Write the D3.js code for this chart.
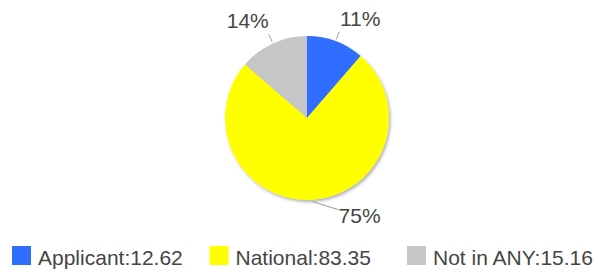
<!DOCTYPE html>
<html>
<head>
<meta charset="utf-8">
<script src="https://cdn.jsdelivr.net/npm/d3@7/dist/d3.min.js"></script>
<style>
  body { margin: 0; background: #fff; }
  text { font-family: "Liberation Sans", Arial, sans-serif; fill: #454545; }
</style>
</head>
<body>
<div class="canvas"></div>
<script>
const categories = ['Applicant', 'National', 'Not in ANY'];
const values = [12.62, 83.35, 15.16];
const colours = ['#2f6dff', '#ffff00', '#c6c6c6'];

const width = 602;
const height = 273;

const svg = d3.select('.canvas')
    .append('svg')
    .attr('width', width)
    .attr('height', height);

// soft shadow under the pie
const defs = svg.append('defs');
const shadow = defs.append('filter')
    .attr('id', 'shadow')
    .attr('x', '-20%').attr('y', '-20%')
    .attr('width', '140%').attr('height', '140%');
shadow.append('feDropShadow')
    .attr('dx', 1.5)
    .attr('dy', 2)
    .attr('stdDeviation', 1.5)
    .attr('flood-color', '#555')
    .attr('flood-opacity', 0.45);

const cx = 307, cy = 118, r = 82;

const graph = svg.append('g')
    .attr('transform', `translate(${cx}, ${cy})`);

const data = categories.map((c, i) => ({ name: c, value: values[i], colour: colours[i] }));
const total = d3.sum(values);

const pie = d3.pie()
    .sort(null)
    .value(d => d.value);

const arcs = pie(data);

const arc = d3.arc()
    .innerRadius(0)
    .outerRadius(r);

graph.append('g')
    .attr('filter', 'url(#shadow)')
    .selectAll('path')
    .data(arcs)
    .enter()
    .append('path')
    .attr('d', arc)
    .attr('fill', d => d.data.colour);

// labels with short leader lines
const polar = (a, rad) => [Math.sin(a) * rad, -Math.cos(a) * rad];

arcs.forEach(d => {
    const mid = (d.startAngle + d.endAngle) / 2;
    const side = Math.sin(mid) >= 0 ? 1 : -1;
    const lower = Math.cos(mid) < 0;
    const p1 = polar(mid, r + 2);
    const p2 = polar(mid, r + 10);
    if (lower) p2[0] += side * 25;

    graph.append('line')
        .attr('x1', p1[0]).attr('y1', p1[1])
        .attr('x2', p2[0]).attr('y2', p2[1])
        .attr('stroke', '#9a9a9a')
        .attr('stroke-width', 1);

    graph.append('text')
        .attr('x', p2[0] + side * 21)
        .attr('y', p2[1] + (lower ? 6 : -13) + 7)
        .attr('text-anchor', 'middle')
        .attr('font-size', 21)
        .text(Math.round(d.data.value / total * 100) + '%');
});

// legend
const legend = svg.append('g')
    .attr('transform', 'translate(12, 246)');

const item = legend.selectAll('g')
    .data(data)
    .enter()
    .append('g')
    .attr('transform', (d, i) => `translate(${i * 197.5}, 0)`);

item.append('rect')
    .attr('width', 19)
    .attr('height', 19)
    .attr('fill', d => d.colour);

item.append('text')
    .attr('x', 26)
    .attr('y', 19)
    .attr('font-size', 21)
    .text(d => `${d.name}:${d.value.toFixed(2)}`);
</script>
</body>
</html>
